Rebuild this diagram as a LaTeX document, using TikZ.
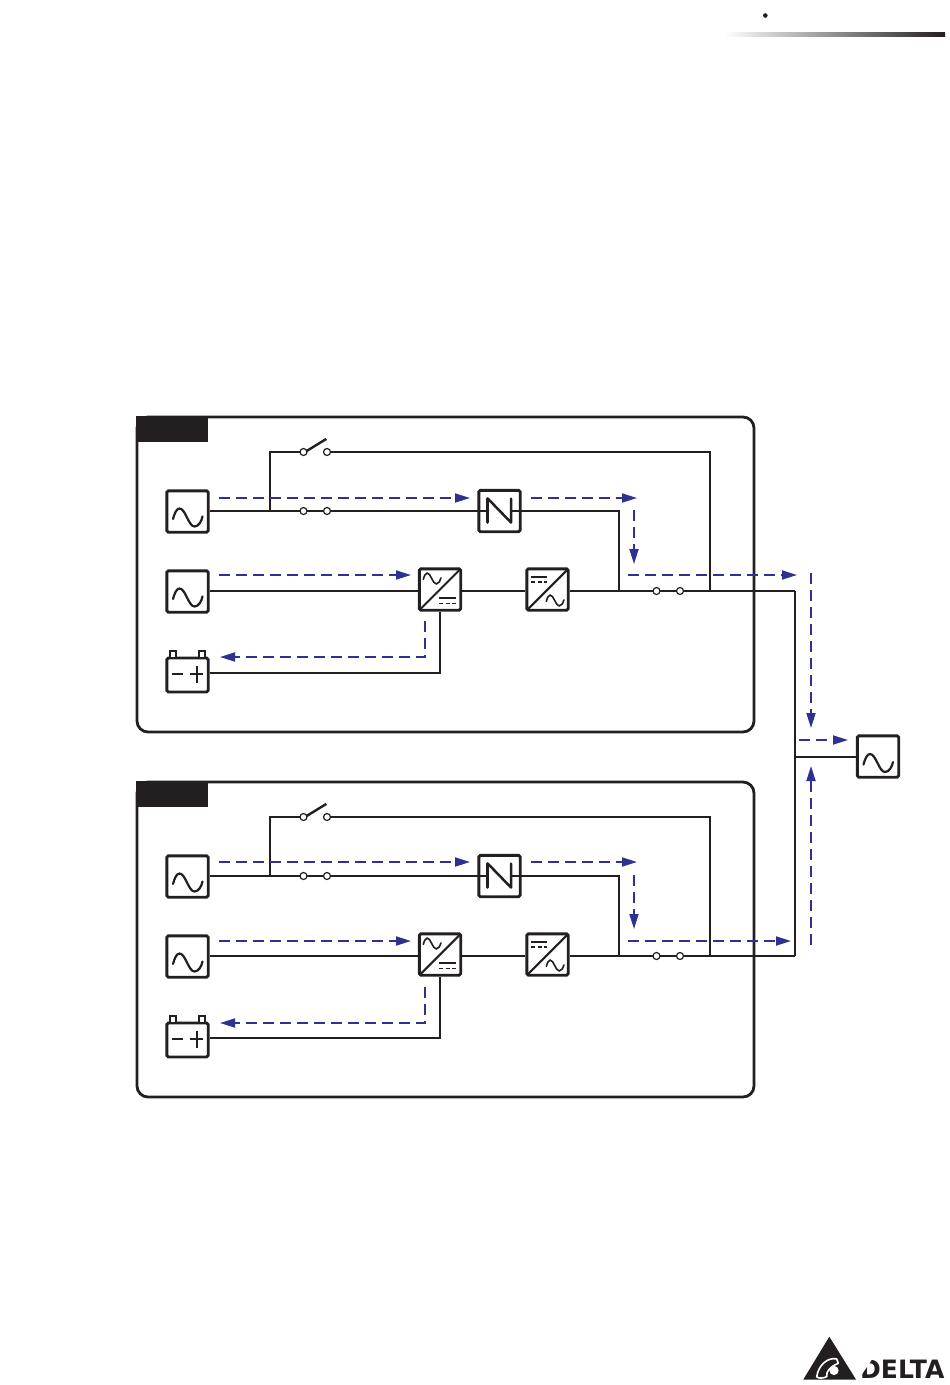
\documentclass[tikz,border=0pt]{standalone}
\usepackage{fontspec}
\setmainfont{DejaVu Sans}
\newfontfamily\logofont[FakeStretch=0.99]{DejaVu Sans Bold}
\usetikzlibrary{arrows.meta,calc}
\definecolor{flow}{HTML}{2E3192}
\definecolor{ink}{HTML}{231F20}
\tikzset{
  box/.style={draw=ink,line width=2.8pt,rounded corners=1.5pt,minimum width=41.3pt,minimum height=41.3pt,inner sep=0pt,outer sep=1.4pt,fill=white},
  wire/.style={draw=ink,line width=1.8pt},
  blade/.style={draw=ink,line width=2.8pt},
  wave/.style={draw=ink,line width=2.2pt,line cap=round},
  smallwave/.style={draw=ink,line width=1.6pt,line cap=round},
  contact/.style={circle,draw=ink,line width=1.2pt,fill=white,minimum size=7pt,inner sep=0pt,outer sep=0pt},
  flowline/.style={draw=flow,line width=1.8pt,dash pattern=on 11pt off 6pt,-{Triangle[length=15pt,width=9pt]}},
  frame/.style={draw=ink,line width=2.8pt,rounded corners=11pt},
}
\newcommand{\sinewave}[4]{\draw[#4,shift={(#1,#2)},scale=#3] (-14.5,1.5) .. controls (-13,-4) and (-11,-9) .. (-8,-9) .. controls (-2,-9) and (1,9) .. (7,9) .. controls (11,9) and (14,4) .. (15,-1);}
\begin{document}
\begin{tikzpicture}[x=1pt,y=-1pt]
\useasboundingbox (0,0) rectangle (950,1385);
% page head
\fill[ink] (765.3,15.5) circle (2.3pt);
\shade[left color=white,right color=ink,draw=none] (724,32) rectangle (945,36);
% two identical units
\foreach \u/\d/\p/\q in {a/0/0/0,b/365/-1/1}{
\begin{scope}[yshift=-\d pt]
  \draw[frame] (137,417) rectangle (754,732);
  \fill[ink] (135.6,415.6) rectangle (208,442);
  \node[box] (mains\u) at (187.5,511.5) {};
  \node[box] (aux\u) at (187.5,591.5) {};
  \node[box,minimum height=34pt] (batt\u) at (187.5,675) {};
  \node[box] (stat\u) at (499.5,511) {};
  \node[box] (rect\u) at (440,589.5) {};
  \node[box] (inv\u) at (547.5,589.5) {};
  % contacts
  \node[contact] (bl\u) at (303.5,452) {};
  \node[contact] (br\u) at (327,452) {};
  \node[contact] (sl\u) at (303.5,511) {};
  \node[contact] (sr\u) at (327,511) {};
  \node[contact] (ol\u) at (656.5,591) {};
  \node[contact] (or\u) at (680,591) {};
  % junctions
  \coordinate (j1\u) at (270,511);
  \coordinate (j2\u) at (270,452);
  \coordinate (j3\u) at (619,511);
  \coordinate (j4\u) at (619,591);
  \coordinate (j5\u) at (710,452);
  \coordinate (j6\u) at (710,591);
  \coordinate (j7\u) at (440,673);
  \coordinate (bus\u) at (795,591);
  % wires
  \draw[wire] (mains\u.east |- j1\u) -- (j1\u) -- (sl\u);
  \draw[wire] (j1\u) -- (j2\u) -- (bl\u);
  \draw[wire] (sr\u) -- (stat\u.west |- sr\u);
  \draw[wire] (stat\u.east |- j3\u) -- (j3\u) -- (j4\u);
  \draw[wire] (br\u) -- (j5\u) -- (j6\u);
  \draw[wire] (aux\u.east |- j4\u) -- (rect\u.west |- j4\u);
  \draw[wire] (rect\u.east |- j4\u) -- (inv\u.west |- j4\u);
  \draw[wire] (inv\u.east |- j4\u) -- (ol\u);
  \draw[wire] (or\u) -- (bus\u);
  \draw[wire] (batt\u.east |- j7\u) -- (j7\u) -- (rect\u.south);
  % switch blades
  \draw[blade] (sl\u) -- (sr\u);
  \draw[blade] (ol\u) -- (or\u);
  \draw[ink,line width=2.4pt] (bl\u) ++(2.8,-0.8) -- ++(20,-12.3);
  % sine sources
  \sinewave{187.5}{517.5}{1}{wave}
  \sinewave{187.5}{597.5}{1}{wave}
  % battery
  \draw[ink,line width=1.6pt,fill=white] (170,657) -- (170,650.8) -- (175.8,650.8) -- (175.8,657);
  \draw[ink,line width=1.6pt,fill=white] (199,657) -- (199,650.8) -- (205,650.8) -- (205,657);
  \draw[ink,line width=2pt] (172.3,674.3) -- (183.3,674.3);
  \draw[ink,line width=2pt] (190,674.3) -- (203.3,674.3) (196.7,666) -- (196.7,682.7);
  % static switch
  \draw[wire] (stat\u.west |- sr\u) -- (487.7,511);
  \draw[wire] (511,511) -- (stat\u.east |- sr\u);
  \draw[ink,line width=2.5pt,line cap=round,line join=round] (487.7,498.5) -- (487.7,522.5);
  \draw[ink,line width=2.5pt,line cap=round,line join=round] (487.7,498.5) -- (511,522.5) -- (511,498.5);
  % rectifier
  \draw[ink,line width=2.1pt] (rect\u.south west) ++(1.5,-1.5) -- ($(rect\u.north east)+(-1.5,1.5)$);
  \sinewave{432}{578.5}{0.6}{smallwave}
  \draw[ink,line width=1.5pt] (439.3,598) -- (455.7,598);
  \draw[ink,line width=1.5pt,dash pattern=on 4pt off 2.2pt] (439.3,603.7) -- (455.7,603.7);
  % inverter
  \draw[ink,line width=2.1pt] (inv\u.south west) ++(1.5,-1.5) -- ($(inv\u.north east)+(-1.5,1.5)$);
  \sinewave{555}{600.5}{0.6}{smallwave}
  \draw[ink,line width=1.5pt] (531.3,577) -- (547.3,577);
  \draw[ink,line width=1.5pt,dash pattern=on 4pt off 2.2pt] (531.3,582) -- (547.3,582);
  % power flow
  \coordinate (fa1\u) at (219,498+\p);
  \coordinate (fa2\u) at (470,498+\p);
  \coordinate (fb1\u) at (531,498+\p);
  \coordinate (fb2\u) at (637,498+\p);
  \coordinate (fc1\u) at (634,510);
  \coordinate (fc2\u) at (634,564);
  \coordinate (fd1\u) at (219,575+\q);
  \coordinate (fd2\u) at (411,575+\q);
  \coordinate (fe1\u) at (425,621+\q);
  \coordinate (fe2\u) at (425,657+\q);
  \coordinate (fe3\u) at (220,657+\q);
  \draw[flowline] (fa1\u) -- (fa2\u);
  \draw[flowline] (fb1\u) -- (fb2\u);
  \draw[flowline] (fc1\u) -- (fc2\u);
  \draw[flowline] (fd1\u) -- (fd2\u);
  \draw[flowline] (fe1\u) -- (fe2\u) -- (fe3\u);
\end{scope}
}
% load
\node[box] (load) at (878,756.5) {};
\sinewave{878}{763}{1}{wave}
\coordinate (loadj) at (795,757);
\draw[wire] (busa) -- (busb);
\draw[wire] (loadj) -- (load.west |- loadj);
% output flows
\coordinate (ga1) at (628,575);
\coordinate (ga2) at (797,575);
\coordinate (gb1) at (628,941);
\coordinate (gb2) at (791,941);
\coordinate (gc1) at (811,573);
\coordinate (gc2) at (811,728);
\coordinate (gd1) at (811,945);
\coordinate (gd2) at (811,766);
\coordinate (ge1) at (799,740);
\coordinate (ge2) at (848,740);
\draw[flowline] (ga1) -- (ga2);
\draw[flowline] (gb1) -- (gb2);
\draw[flowline] (gc1) -- (gc2);
\draw[flowline] (gd1) -- (gd2);
\draw[flowline] (ge1) -- (ge2);
% logo
\fill[ink] (829.3,1336.7) -- (856,1379.5) -- (803.3,1379.5) -- cycle;
\draw[white,line width=1.6pt,line join=round] (836.7,1359) .. controls (828.3,1356.7) and (818.3,1365) .. (816.7,1376.7) .. controls (818.3,1379) and (824,1378) .. (826.7,1376.7) .. controls (826,1371) and (830,1367) .. (838.3,1363.3) -- cycle;
\fill[white] (834,1370.5) circle (4.6pt);
\node[inner sep=0pt,anchor=base west,text=ink] (deltamark) at (860,1378.7) {\fontsize{25.3}{25.3}\selectfont\logofont DELTA};
\fill[white] (858,1380) -- (858,1358) -- (873,1358) -- cycle;
\end{tikzpicture}
\end{document}
